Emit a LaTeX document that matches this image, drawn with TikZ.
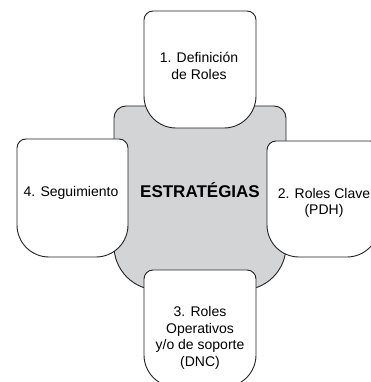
\documentclass[tikz,border=0pt]{standalone}
\usepackage{fontspec}
\setmainfont{Liberation Sans}
\definecolor{centergray}{RGB}{211,212,214}
\definecolor{edgecol}{RGB}{35,35,35}
\newcommand\tabshape[7]{% x1,ytop,x2,ybot,r,R,fill
  \filldraw[shapeline,fill=#7] (#1pt,#4pt+#6pt) -- (#1pt,#2pt-#5pt)
    arc[start angle=180,end angle=90,radius=#5pt] -- (#3pt-#5pt,#2pt)
    arc[start angle=90,end angle=0,radius=#5pt] -- (#3pt,#4pt+#6pt)
    arc[start angle=0,end angle=-90,radius=#6pt] -- (#1pt+#6pt,#4pt)
    arc[start angle=270,end angle=180,radius=#6pt] -- cycle;}
\begin{document}
\begin{tikzpicture}[
  shapeline/.style={draw=edgecol,line width=0.9pt},
  lbl/.style={align=center,font=\fontsize{14}{16.5}\selectfont,inner sep=0pt},
  ttl/.style={font=\fontsize{17}{20}\selectfont\bfseries,inner sep=0pt}]
\useasboundingbox (0,0) rectangle (371pt,382pt);
\begin{scope}
\clip (0,0) rectangle (371pt,382pt);
% central shape
\tabshape{114}{276}{286}{92}{12}{44}{centergray}
% boxes
\tabshape{144}{371}{256}{254}{9}{32}{white}
\tabshape{17}{243}{128}{125}{9}{32}{white}
\tabshape{267}{241}{379}{125}{9}{32}{white}
\tabshape{144}{112}{256}{-5}{9}{32}{white}
\end{scope}
\node[ttl,anchor=base] (center) at (200pt,184pt) {ESTRATÉGIAS};
\node[lbl] (b1) at (199pt,316pt) {1. Definición\\de Roles};
\node[lbl] (b4) at (71pt,189pt) {4. Seguimiento};
\node[lbl] (b2) at (324pt,179pt) {2. Roles Clave\\(PDH)};
\node[lbl] (b3) at (200pt,44pt) {3. Roles\\Operativos\\y/o de soporte\\(DNC)};
\end{tikzpicture}
\end{document}
